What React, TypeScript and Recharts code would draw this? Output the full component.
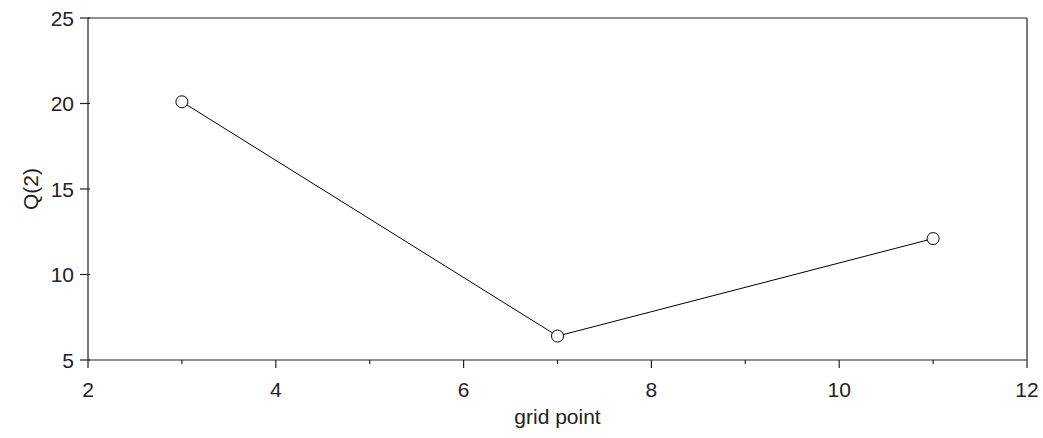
import React from "react";
import { LineChart, Line, XAxis, YAxis, ReferenceLine } from "recharts";

const gridPoints = [3, 7, 11];
const qValues = [20.1, 6.4, 12.1];
const xTicks = [2, 3, 4, 5, 6, 7, 8, 9, 10, 11, 12];
const yTicks = [5, 10, 15, 20, 25];

const data = gridPoints.map((g, i) => ({ g, q: qValues[i] }));

const FONT = "Arial, 'Liberation Sans', sans-serif";
const INK = "#222";

function XTick(props: any) {
  const { x, y, payload } = props;
  const major = payload.value % 2 === 0;
  return (
    <g>
      <line x1={x} y1={y} x2={x} y2={y + (major ? 8 : 4)} stroke={INK} strokeWidth={1.2} />
      {major && (
        <text x={x} y={y + 37} textAnchor="middle" fontFamily={FONT} fontSize={21} fill={INK}>
          {payload.value}
        </text>
      )}
    </g>
  );
}

function YTick(props: any) {
  const { x, y, payload } = props;
  return (
    <g>
      <line x1={x - 8} y1={y} x2={x + 2} y2={y} stroke={INK} strokeWidth={1.2} />
      <text x={x - 14} y={y} dy="0.36em" textAnchor="end" fontFamily={FONT} fontSize={21} fill={INK}>
        {payload.value}
      </text>
    </g>
  );
}

export default function App() {
  return (
    <div style={{ position: "absolute", left: 0, top: 0, width: 1043, height: 438, background: "#fff" }}>
      <LineChart width={1043} height={438} data={data} margin={{ top: 18, right: 16, left: 28, bottom: 8 }}>
        <XAxis
          dataKey="g"
          type="number"
          domain={[2, 12]}
          ticks={xTicks}
          interval={0}
          tickSize={0}
          tickMargin={0}
          tickLine={false}
          tick={<XTick />}
          height={70}
          stroke={INK}
          strokeWidth={1.2}
          label={{
            content: (p: any) => (
              <text
                x={p.viewBox.x + p.viewBox.width / 2}
                y={p.viewBox.y + 64}
                textAnchor="middle"
                fontFamily={FONT}
                fontSize={21}
                fill={INK}
              >
                grid point
              </text>
            ),
          }}
        />
        <YAxis
          type="number"
          domain={[5, 25]}
          ticks={yTicks}
          interval={0}
          width={60}
          tickSize={0}
          tickMargin={0}
          tickLine={false}
          tick={<YTick />}
          stroke={INK}
          strokeWidth={1.2}
          label={{
            content: (p: any) => {
              const cx = 38;
              const cy = p.viewBox.y + p.viewBox.height / 2;
              return (
                <text
                  x={cx}
                  y={cy}
                  transform={`rotate(-90 ${cx} ${cy})`}
                  textAnchor="middle"
                  fontFamily={FONT}
                  fontSize={21}
                  fill={INK}
                >
                  Q(2)
                </text>
              );
            },
          }}
        />
        <ReferenceLine y={25} stroke={INK} strokeWidth={1.2} />
        <ReferenceLine x={12} stroke={INK} strokeWidth={1.2} />
        <Line
          dataKey="q"
          stroke="#000"
          strokeWidth={1}
          dot={{ r: 6, fill: "#fff", stroke: "#000", strokeWidth: 1 }}
          isAnimationActive={false}
        />
      </LineChart>
    </div>
  );
}
